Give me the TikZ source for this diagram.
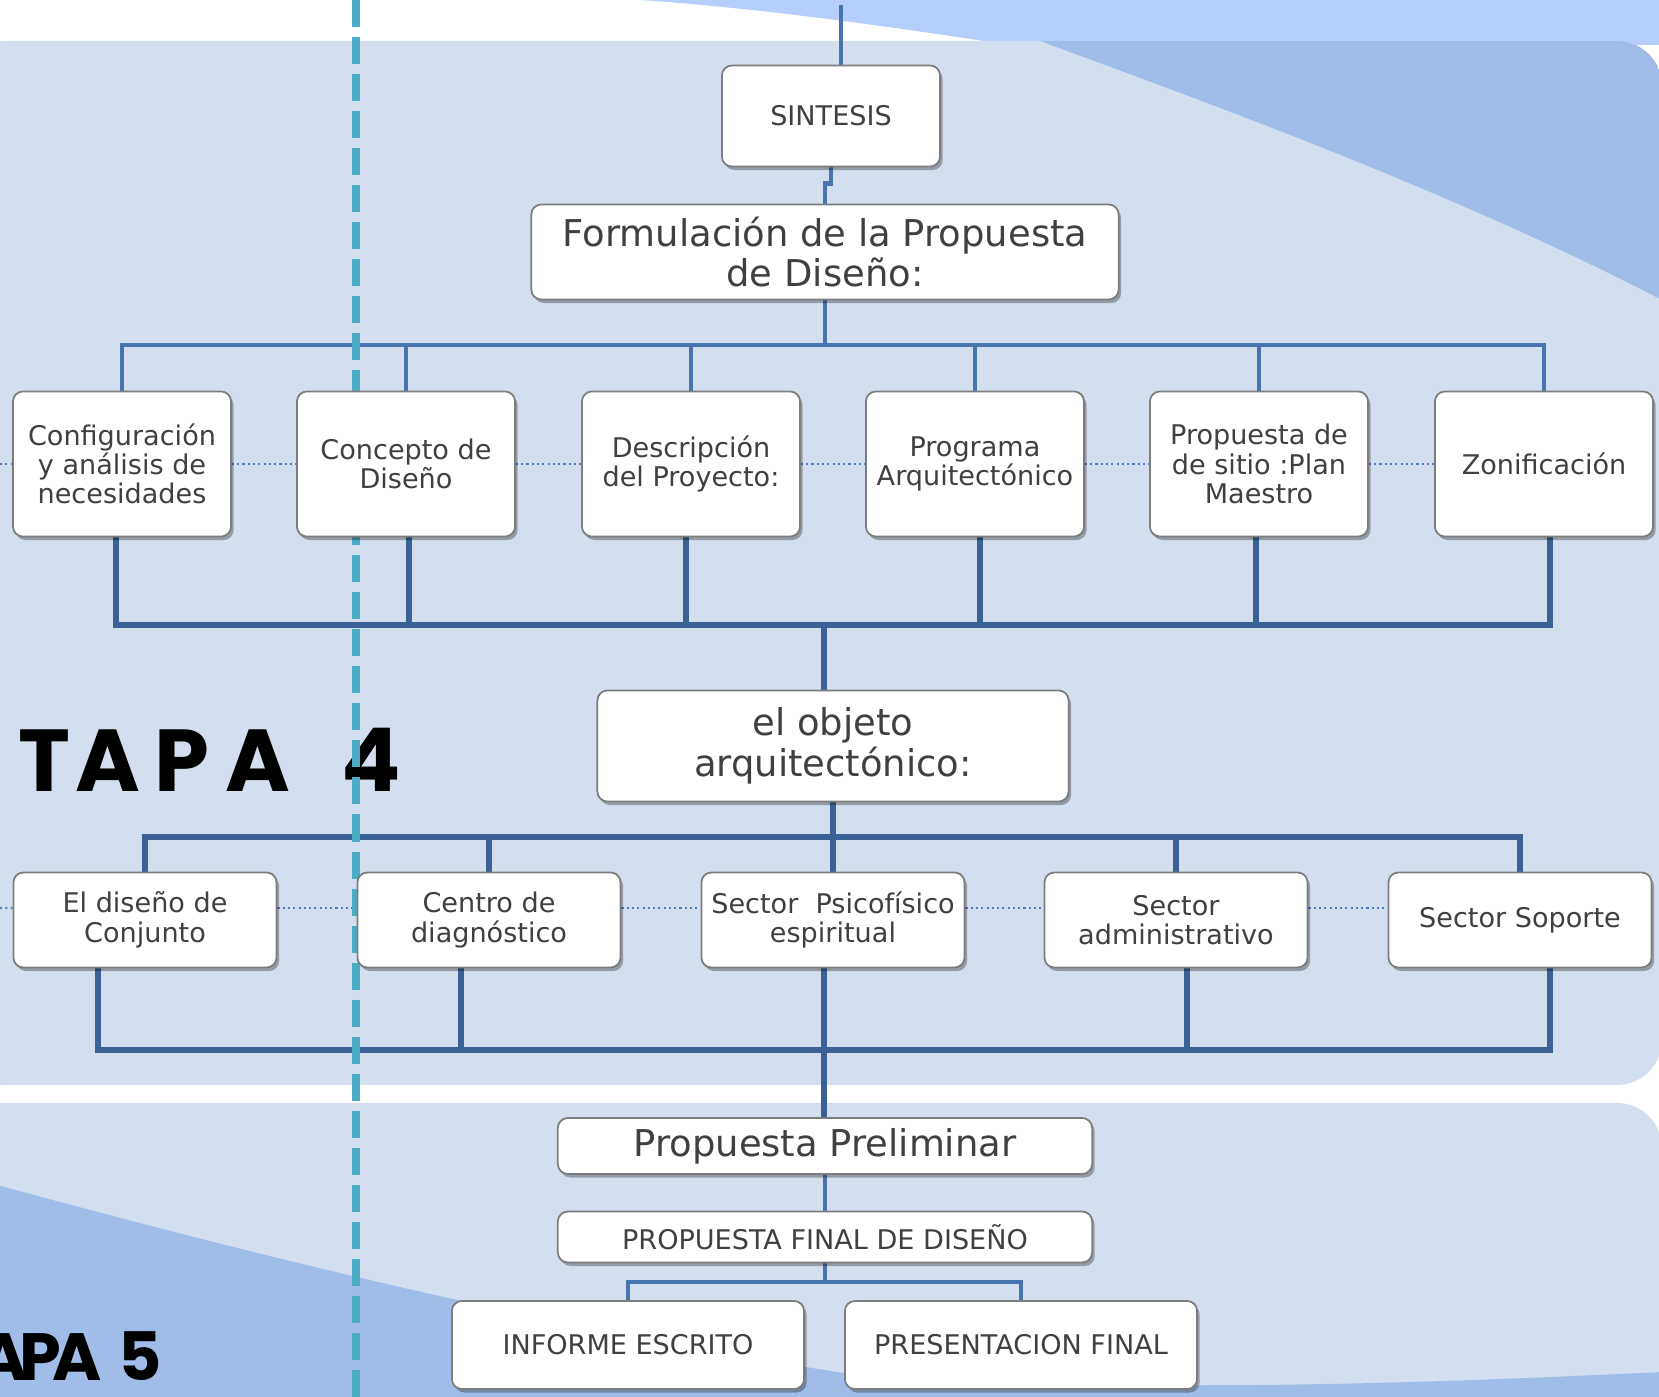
\documentclass[tikz,border=0pt]{standalone}
\usepackage{fontspec}
\setmainfont{DejaVu Sans}
\newfontfamily\tapafont{Poppins}
\usetikzlibrary{positioning,shadows}
\definecolor{panelblue}{RGB}{211,223,238}
\definecolor{wedgeblue}{RGB}{160,189,234}
\definecolor{skyblue}{RGB}{182,206,251}
\definecolor{linkblue}{RGB}{72,116,176}
\definecolor{busblue}{RGB}{58,98,150}
\definecolor{guidecyan}{RGB}{75,172,198}
\definecolor{boxgray}{RGB}{125,125,125}
\definecolor{txtgray}{RGB}{64,64,64}
\definecolor{dotblue}{RGB}{80,125,195}
\pgfdeclarelayer{bg}
\pgfdeclarelayer{wires}
\pgfdeclarelayer{guide}
\pgfsetlayers{bg,wires,guide,main}
\tikzset{
  card/.style={draw=boxgray, line width=0.5pt, fill=white, rounded corners=0.1cm, align=center, text=txtgray, inner sep=1pt, drop shadow={shadow xshift=0.025cm, shadow yshift=-0.035cm, opacity=0.3, fill=black}},
  stepcard/.style={card, minimum width=2.18cm, minimum height=1.45cm, font=\fontsize{7.7}{8.3}\selectfont},
  zonecard/.style={card, minimum width=2.63cm, minimum height=0.95cm, font=\fontsize{7.7}{8.4}\selectfont},
  headcard/.style={card, font=\fontsize{10.5}{11.5}\selectfont},
  plaincard/.style={card, font=\fontsize{7.7}{8.4}\selectfont},
  link/.style={draw=linkblue, line width=1.3pt},
  buslink/.style={draw=busblue, line width=1.6pt},
  dotlink/.style={draw=dotblue, line width=0.6pt, dash pattern=on 0.6pt off 0.9pt},
  guideline/.style={draw=guidecyan, line width=2pt, dash pattern=on 0.27cm off 0.1cm},
  tapa/.style={font=\tapafont\bfseries\fontsize{25}{25}\selectfont, inner sep=0pt, anchor=base},
  tapasmall/.style={tapa, font=\tapafont\bfseries\fontsize{19}{19}\selectfont}
}

\begin{document}
\begin{tikzpicture}[x=0.01cm, y=-0.01cm]
  \useasboundingbox (0,0) rectangle (1659,1397);

  % background panels
  \begin{pgfonlayer}{bg}
    \fill[white] (0,0) rectangle (1659,1397);
    \fill[skyblue] (640,0) .. controls (760,8) and (900,28) .. (1010,45) -- (1659,45) -- (1659,0) -- cycle;
    \fill[panelblue, rounded corners=0.45cm] (-40,41) rectangle (1662,1085);
    \begin{scope}
      \clip[rounded corners=0.45cm] (-40,41) rectangle (1662,1085);
      \fill[wedgeblue] (1040,41) .. controls (1200,100) and (1450,190) .. (1662,300) -- (1662,30) -- (1040,30) -- cycle;
    \end{scope}
    \fill[panelblue, rounded corners=0.45cm] (-40,1103) rectangle (1662,1460);
    \begin{scope}
      \clip[rounded corners=0.45cm] (-40,1103) rectangle (1662,1460);
      \fill[wedgeblue] (-40,1175) .. controls (200,1240) and (500,1320) .. (850,1374) .. controls (1150,1395) and (1450,1382) .. (1662,1372) -- (1662,1460) -- (-40,1460) -- cycle;
    \end{scope}
    \foreach \ch/\px [count=\i] in {T/44, A/108, P/182, A/258, 4/371}
      \node[tapa] (tapa\i) at (\px,792) {\ch};
    \foreach \ch/\px [count=\i] in {A/3, P/40, A/77, 5/140}
      \node[tapasmall] (etapa\i) at (\px,1380) {\ch};
  \end{pgfonlayer}

  \node[plaincard, minimum width=2.18cm, minimum height=1.01cm] (sint) at (831,116) {SINTESIS};
  \node[headcard, minimum width=5.87cm, minimum height=0.95cm] (form) at (825,252) {Formulación de la Propuesta\\de Diseño:};

  \node[stepcard] (conf) at (122,464) {Configuración\\y análisis de\\necesidades};
  \node[stepcard] (conc) at (406,464) {Concepto de\\Diseño};
  \node[stepcard] (desc) at (691,464) {Descripción\\del Proyecto:};
  \node[stepcard] (prog) at (975,464) {Programa\\Arquitectónico};
  \node[stepcard] (sitio) at (1259,464) {Propuesta de\\de sitio :Plan\\Maestro};
  \node[stepcard] (zoni) at (1544,464) {Zonificación};

  \node[headcard, minimum width=4.71cm, minimum height=1.11cm] (obj) at (833,746) {el objeto\\arquitectónico:};

  \node[zonecard] (conj) at (145,920) {El diseño de\\Conjunto};
  \node[zonecard] (diag) at (489,920) {Centro de\\diagnóstico};
  \node[zonecard] (psic) at (833,920) {Sector\ \ Psicofísico\\espiritual};
  \node[zonecard] (admin) at (1176,920) {Sector\\administrativo};
  \node[zonecard] (sop) at (1520,920) {Sector Soporte};

  \node[headcard, minimum width=5.34cm, minimum height=0.56cm] (prel) at (825,1146) {Propuesta Preliminar};
  \node[plaincard, minimum width=5.34cm, minimum height=0.51cm] (final) at (825,1237) {PROPUESTA FINAL DE DISEÑO};
  \node[plaincard, minimum width=3.52cm, minimum height=0.88cm] (inf) at (628,1345) {INFORME ESCRITO};
  \node[plaincard, minimum width=3.52cm, minimum height=0.88cm] (pres) at (1021,1345) {PRESENTACION FINAL};

  % connectors
  \begin{pgfonlayer}{wires}
    \coordinate (feed) at (841,5);
    \draw[link] (feed) -- (feed |- sint.north);
    \draw[link] (sint.south) -- ++(0,16) -| (form.north);
    \coordinate (bus1) at (825,345);
    \draw[link] (form.south) -- (bus1);
    \draw[link] (conf.north) |- (zoni.north |- bus1) -- (zoni.north);
    \foreach \n in {conc,desc,prog,sitio}
      \draw[link] (\n.north) -- (\n.north |- bus1);

    \foreach \n/\dx in {conf/-0.06, conc/0.03, desc/-0.05, prog/0.05, sitio/-0.03, zoni/0.06}
      \coordinate (d\n) at ([xshift=\dx cm]\n.south);
    \coordinate (bus2) at (824,625);
    \draw[buslink] (dconf) |- (dzoni |- bus2) -- (dzoni);
    \foreach \n in {conc,desc,prog,sitio}
      \draw[buslink] (d\n) -- (d\n |- bus2);
    \draw[buslink] (bus2) -- (bus2 |- obj.north);

    \coordinate (bus3) at (833,837);
    \draw[buslink] (obj.south) -- (bus3);
    \draw[buslink] (conj.north) |- (sop.north |- bus3) -- (sop.north);
    \foreach \n in {diag,psic,admin}
      \draw[buslink] (\n.north) -- (\n.north |- bus3);

    \foreach \n/\dx in {conj/-0.47, diag/-0.28, psic/-0.09, admin/0.11, sop/0.30}
      \coordinate (d\n) at ([xshift=\dx cm]\n.south);
    \coordinate (bus4) at (824,1050);
    \draw[buslink] (dconj) |- (dsop |- bus4) -- (dsop);
    \foreach \n in {diag,psic,admin}
      \draw[buslink] (d\n) -- (d\n |- bus4);
    \draw[buslink] (bus4) -- (bus4 |- prel.north);

    \draw[link] (prel.south) -- (final.north);
    \coordinate (bus5) at (825,1282);
    \draw[link] (final.south) -- (bus5);
    \draw[link] (inf.north) |- (pres.north |- bus5) -- (pres.north);

    % dotted row guides
    \coordinate (edge1) at (0,464);
    \draw[dotlink] (edge1) -- (conf.west);
    \foreach \a/\b in {conf/conc, conc/desc, desc/prog, prog/sitio, sitio/zoni}
      \draw[dotlink] (\a.east) -- (\b.west);
    \coordinate (edge2) at (0,908);
    \draw[dotlink] (edge2) -- ([yshift=0.12cm]conj.west);
    \foreach \a/\b in {conj/diag, diag/psic, psic/admin, admin/sop}
      \draw[dotlink] ([yshift=0.12cm]\a.east) -- ([yshift=0.12cm]\b.west);
  \end{pgfonlayer}

  \begin{pgfonlayer}{guide}
    \draw[guideline] (356,0) -- (356,1397);
  \end{pgfonlayer}
\end{tikzpicture}
\end{document}
